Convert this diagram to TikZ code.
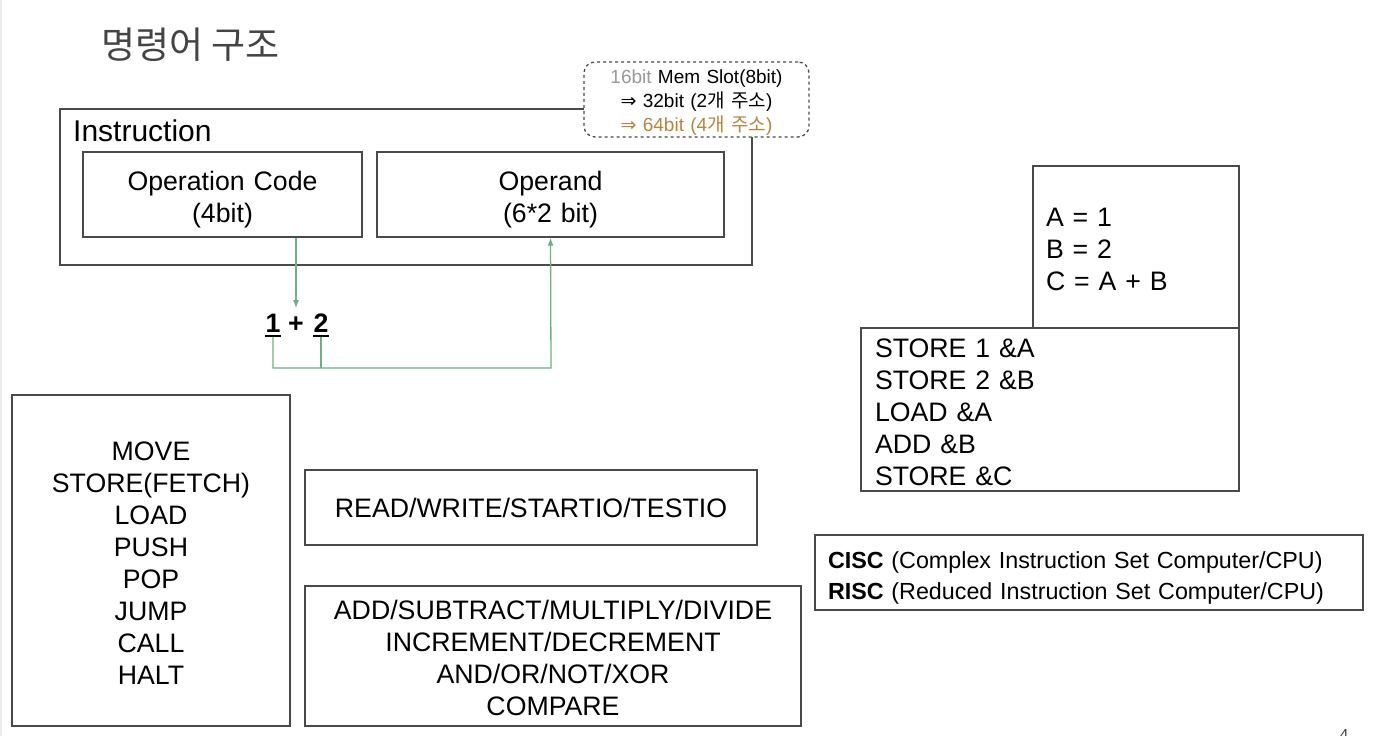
\documentclass[tikz,border=0pt]{standalone}
\usepackage{fontspec}
\setmainfont{Liberation Sans}
\newfontfamily\kr{Noto Sans CJK KR}
\newfontfamily\sym{DejaVu Sans}
\usetikzlibrary{arrows.meta}
\definecolor{linegray}{HTML}{4A4A4A}
\definecolor{titlegray}{HTML}{444444}
\definecolor{linkgreen}{RGB}{110,175,135}
\definecolor{bitgray}{HTML}{9A9A9A}
\definecolor{bitorange}{HTML}{B8863B}
\newcommand{\mainsize}{\fontsize{26.7}{32}\selectfont}
\begin{document}
\begin{tikzpicture}[x=1pt,y=-1pt,
    box/.style={draw=linegray,line width=1.3pt,inner sep=0pt},
    lines/.style={execute at begin node={\rule{0pt}{#1}},execute at end node={\rule[-6pt]{0pt}{6pt}}},
    lines/.default=29pt,
    link/.style={draw=linkgreen,line width=1.3pt},
    uline/.style={line width=2.3pt},
    tip/.style={-{Latex[length=8pt,width=6pt]}}]
    \useasboundingbox (0,0) rectangle (1376,736);
    \draw[gray!15,line width=2pt] (1,0) -- (1,736);%slide edge
    \node[anchor=west,text=titlegray,font=\kr\fontsize{37}{40}\selectfont] (title) at (98,45) {명령어 구조};
    % instruction format
    \node[box,minimum width=692pt,minimum height=156pt] (instr) at (406,187) {};
    \node[anchor=west,inner sep=0pt,font=\fontsize{30}{34}\selectfont] (instrlabel) at (73,131) {Instruction};
    \node[box,lines,minimum width=279pt,minimum height=85pt,text width=279pt,align=center,font=\mainsize] (opcode) at (222.5,194.5) {Operation Code\\(4bit)};
    \node[box,lines,minimum width=347pt,minimum height=85pt,text width=347pt,align=center,font=\mainsize] (operand) at (550.5,194.5) {Operand\\(6*2 bit)};
    \node[box,lines=21pt,dashed,fill=white,rounded corners=11pt,minimum width=225pt,minimum height=75pt,text width=225pt,align=center,font=\fontsize{19}{24}\selectfont] (slot) at (696.5,99.5)
        {{\color{bitgray}16bit} Mem Slot(8bit)\\{\sym ⇒} 32bit (2{\kr 개 주소})\\{\color{bitorange}{\sym ⇒} 64bit (4{\kr 개 주소})}};
    % 1 + 2
    \node[anchor=base,inner sep=0pt,font=\bfseries\mainsize] (one) at (273,332) {1};
    \node[anchor=base,inner sep=0pt,font=\bfseries\mainsize] (plus) at (296,332) {+};
    \node[anchor=base,inner sep=0pt,font=\bfseries\mainsize] (two) at (321,332) {2};
    \draw[uline] ([yshift=-4pt]one.south west) -- ([yshift=-4pt]one.south east);
    \draw[uline] ([yshift=-4pt]two.south west) -- ([yshift=-4pt]two.south east);
    \coordinate (bus) at (551,368);
    \draw[link,tip] (opcode.south -| plus) -- ([yshift=8pt]plus.north);
    \draw[link,tip] ([yshift=-5pt]one.south) |- (bus) -- (operand.south);
    \draw[link] ([yshift=-5pt]two.south) -- (two.south |- bus);
    % instruction groups
    \node[box,lines,minimum width=278pt,minimum height=331pt,text width=278pt,align=center,font=\mainsize] (control) at (151,560.5)
        {MOVE\\STORE(FETCH)\\LOAD\\PUSH\\POP\\JUMP\\CALL\\HALT};
    \node[box,minimum width=452pt,minimum height=75pt,align=center,font=\mainsize] (io) at (531,507.5) {READ/WRITE/STARTIO/TESTIO};
    \node[box,lines,minimum width=496pt,minimum height=140pt,text width=496pt,align=center,font=\mainsize] (alu) at (553,656)
        {ADD/SUBTRACT/MULTIPLY/DIVIDE\\INCREMENT/DECREMENT\\AND/OR/NOT/XOR\\COMPARE};
    % example program
    \node[box,lines,minimum width=206pt,minimum height=162pt,inner xsep=13pt,text width=180pt,align=left,font=\mainsize] (code) at (1136,247)
        {A = 1\\B = 2\\C = A + B};
    \node[box,lines,minimum width=378pt,minimum height=163pt,inner xsep=14pt,text width=350pt,align=left,font=\mainsize] (asm) at (1050,409.5)
        {STORE 1 \&A\\STORE 2 \&B\\LOAD \&A\\ADD \&B\\STORE \&C};
    \node[box,lines,minimum width=548pt,minimum height=75pt,inner xsep=13pt,text width=522pt,align=left,font=\fontsize{23.3}{31}\selectfont] (isa) at (1089,572.5)
        {\textbf{CISC} (Complex Instruction Set Computer/CPU)\\\textbf{RISC} (Reduced Instruction Set Computer/CPU)};
    \node[anchor=base,text=titlegray,font=\fontsize{16}{18}\selectfont] (page) at (1344,740) {4};
\end{tikzpicture}
\end{document}
